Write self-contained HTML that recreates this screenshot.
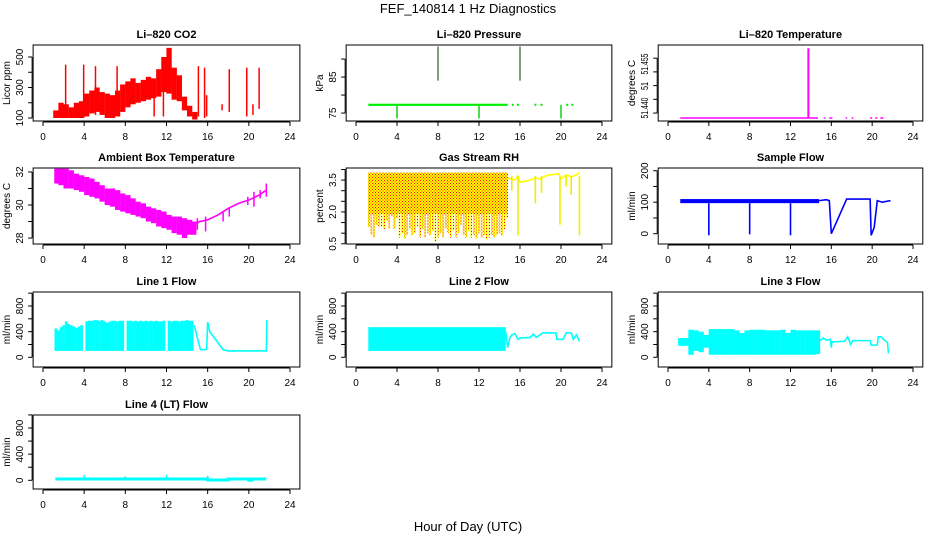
<!DOCTYPE html>
<html><head><meta charset="utf-8"><title>FEF_140814 1 Hz Diagnostics</title>
<style>
html,body{margin:0;padding:0;background:#fff;}
svg{display:block;font-family:"Liberation Sans",Arial,sans-serif;}
.t{font-size:11px;font-weight:bold;text-anchor:middle;}
.tk{font-size:10px;text-anchor:middle;}
</style></head><body>
<svg id="chart" width="936" height="540" viewBox="0 0 936 540">
<defs>
<pattern id="rhpat" width="3" height="3" patternUnits="userSpaceOnUse">
<rect width="3" height="3" fill="#ffff00"/><rect x="0" y="0" width="1" height="1" fill="#ff0000"/><rect x="1.5" y="1.5" width="1" height="1" fill="#ff0000"/>
</pattern>
</defs>
<text x="468" y="13" font-size="13" text-anchor="middle">FEF_140814  1 Hz Diagnostics</text>
<text x="468" y="531" font-size="13" text-anchor="middle">Hour of Day (UTC)</text>
</svg>
<script>
// ---------- data ----------
const xTicks = [0,4,8,12,16,20,24];
// CO2 envelope
const co2Hours = [1.25,1.75,2.25,2.75,3.25,3.75,4.25,4.75,5.25,5.75,6.25,6.75,7.25,7.75,8.25,8.75,9.25,9.75,10.25,10.75,11.25,11.75,12.25,12.75,13.25,13.75,14.25,14.75];
const co2Lo = [100,100,100,100,100,100,110,130,140,120,100,100,110,140,170,190,200,210,220,230,240,270,260,220,210,150,110,90];
const co2Hi = [150,200,190,170,200,210,260,280,300,270,260,250,280,320,340,360,330,350,370,360,420,500,560,430,380,240,180,140];
const co2SpikeH = [2.2,3.95,5.1,7.2,10.8,11.7,15.1,15.7,15.9,17.4,18.1,19.8,20.4,21.0];
const co2SpikeLo = [100,100,120,110,110,110,110,100,110,150,140,110,120,160];
const co2SpikeHi = [450,450,440,440,320,400,440,430,250,190,420,430,190,430];
// Pressure
const presBandStart = 1.2, presBandEnd = 14.8, presBase = 77.3;
const presDotH = [15.3,15.8,17.5,18.1,20.6,21.1];
const presUpH = [8,16], presUpLo = [84,84], presUpHi = [93.5,93.5];
const presDnH = [4,12,20], presDnLo = [73.5,73.5,73.5];
// Li-820 temperature
const tempLineStart = 1.2, tempLineEnd = 14.7, tempBase = 51.4382;
const tempSpikeH = 13.75, tempSpikeTop = 51.4636;
const tempDashStart = [15.3,15.8,17.4,18.0,19.8,20.3,20.8];
const tempDashEnd = [15.45,16.1,17.55,18.15,20.0,20.5,21.1];
// Ambient box temperature
const ambHours = [1.35,1.75,2.25,2.75,3.25,3.75,4.25,4.75,5.25,5.75,6.25,6.75,7.25,7.75,8.25,8.75,9.25,9.75,10.25,10.75,11.25,11.75,12.25,12.75,13.25,13.75,14.25,14.65];
const ambLo = [31.3,31.2,31.0,31.0,30.9,30.8,30.6,30.5,30.4,30.2,30.0,29.9,29.7,29.6,29.5,29.4,29.3,29.2,29.0,28.9,28.7,28.6,28.5,28.3,28.2,28.0,28.2,28.2];
const ambHi = [32.2,32.2,32.2,32.1,31.9,31.8,31.7,31.6,31.4,31.2,31.0,31.0,30.9,30.7,30.6,30.4,30.2,30.1,29.9,29.8,29.7,29.6,29.4,29.3,29.3,29.2,29.1,29.0];
const ambTailH = [14.8,15.0,15.2,16,17,18,19,20,21,21.7];
const ambTailV = [28.9,28.9,29.0,29.1,29.4,29.8,30.1,30.3,30.6,30.9];
const ambSpikeH = [15.0,15.8,17.5,18.1,19.9,20.5,21.1,21.7];
const ambSpikeLo = [28.5,28.4,29.0,29.3,30.0,29.9,30.4,30.5];
const ambSpikeHi = [29.2,29.3,29.6,29.8,30.5,30.8,30.9,31.3];
// Gas stream RH
const rhHours = [1.25,1.5,1.75,2.0,2.25,2.5,2.75,3.0,3.25,3.5,3.75,4.0,4.25,4.5,4.75,5.0,5.25,5.5,5.75,6.0,6.25,6.5,6.75,7.0,7.25,7.5,7.75,8.0,8.25,8.5,8.75,9.0,9.25,9.5,9.75,10.0,10.25,10.5,10.75,11.0,11.25,11.5,11.75,12.0,12.25,12.5,12.75,13.0,13.25,13.5,13.75,14.0,14.25,14.5,14.75];
const rhLo = [1.3,0.9,0.8,1.4,1.3,1.3,1.2,1.6,1.2,1.8,1.2,1.7,0.8,1.0,0.75,0.9,1.2,0.9,1.0,1.3,0.8,1.2,0.8,1.0,0.9,1.1,0.6,0.8,1.0,0.8,1.2,1.0,0.8,1.1,0.8,1.0,1.4,0.9,0.8,1.1,0.8,0.9,0.75,1.0,0.8,0.9,0.7,0.8,0.9,0.8,0.9,1.0,0.9,1.2,1.7];
const rhHi = 3.85;
const rhTailH = [14.8,15.2,15.5,15.8,16.0,17.0,17.5,18.0,18.5,19.0,19.8,20.0,20.5,21.0,21.5,21.8];
const rhTailV = [3.6,3.55,3.5,3.7,3.4,3.5,3.6,3.55,3.7,3.75,3.8,3.55,3.75,3.65,3.75,3.85];
const rhSpikeH = [15.2,15.8,17.5,18.1,19.9,20.5,21.0,21.8];
const rhSpikeLo = [3.0,0.9,2.4,2.9,1.4,3.2,2.8,0.9];
// Sample flow
const sfBandStart = 1.2, sfBandEnd = 14.8, sfBandLo = 97, sfBandHi = 110;
const sfDropH = [4,8,12];
const sfDropV = [-5,-2,-5];
const sfTailH = [14.8,15.5,15.8,16.0,17.5,19.8,19.9,20.2,20.5,21.0,21.8];
const sfTailV = [105,108,105,0,110,110,-5,20,105,100,105];
// Line 1 flow
const l1Hours = [1.25,1.5,1.75,2.0,2.25,2.5,2.75,3.0,3.25,3.5,3.75,4.25,4.5,4.75,5.0,5.25,5.5,5.75,6.0,6.25,6.5,6.75,7.0,7.25,7.5,7.75,8.25,8.5,8.75,9.0,9.25,9.5,9.75,10.0,10.25,10.5,10.75,11.0,11.25,11.5,11.75,12.25,12.5,12.75,13.0,13.25,13.5,13.75,14.0,14.25,14.5];
const l1Hi = [450,420,470,500,560,520,500,480,460,480,500,560,570,570,580,580,570,580,560,540,560,570,570,560,570,570,570,570,560,570,560,570,560,570,560,570,560,570,560,560,570,570,560,570,570,560,570,570,580,570,570];
const l1Lo = 100;
const l1TailH = [14.7,15.0,15.3,15.9,16.0,16.2,17.5,18.0,21.7,21.75];
const l1TailV = [500,300,120,120,550,400,120,100,100,580];
// Line 2 flow
const l2BandStart = 1.2, l2BandEnd = 14.6, l2BandLo = 100, l2BandHi = 470;
const l2TailH = [14.6,14.8,15.0,15.2,15.5,15.8,16.0,17.0,17.3,17.6,18.2,19.5,19.6,20.2,20.5,21.0,21.2,21.5,21.8];
const l2TailV = [400,150,300,350,370,280,300,310,360,310,380,380,280,280,380,380,280,350,250];
// Line 3 flow
const l3Hours = [1.25,1.5,1.75,2.25,2.75,3.25,3.75,4.25,4.75,5.25,5.75,6.25,6.75,7.25,7.75,8.25,8.75,9.25,9.75,10.25,10.75,11.25,11.75,12.25,12.75,13.25,13.75,14.25,14.65];
const l3Lo = [180,180,180,40,100,80,150,40,40,40,40,40,40,40,40,40,40,40,40,40,40,40,40,40,40,40,40,40,50];
const l3Hi = [300,300,300,430,420,400,350,440,440,440,440,440,420,380,420,430,430,430,420,420,420,430,380,430,420,420,420,420,420];
const l3TailH = [14.8,15.2,15.5,15.9,16.0,16.05,17.3,17.6,17.9,18.1,19.8,19.9,20.5,20.6,20.9,21.1,21.5,21.6];
const l3TailV = [250,300,270,280,150,240,250,320,200,260,260,190,190,320,320,280,230,60];
// Line 4 flow
const l4LineH = [1.2,16.0,16.0,18.0,18.0,20.0,20.0,20.3,20.3,21.7];
const l4LineV = [20,20,5,5,20,20,0,0,20,20];
const l4SpikeH = [4,8,12,16];
const l4SpikeV = [80,60,80,70];

// ---------- layout ----------
const svg = document.getElementById('chart');
const NS = 'http://www.w3.org/2000/svg';
const colX0 = [43,356,668], colX24 = [290,602,913];
const rowTop = [45,168,292,415], rowBot = [121,244,367,489];
function mk(tag, attrs, parent){const e=document.createElementNS(NS,tag);for(const k in attrs)e.setAttribute(k,attrs[k]);(parent||svg).appendChild(e);return e;}
function makePanel(cfg){
  const p = Object.assign({}, cfg);
  p.top=rowTop[cfg.row]; p.bot=rowBot[cfg.row];
  p.x=h=>colX0[cfg.col]+h*(colX24[cfg.col]-colX0[cfg.col])/24;
  p.y=v=>p.bot-(v-cfg.lo)/(cfg.hi-cfg.lo)*(p.bot-p.top);
  p.left=p.x(-0.96); p.right=p.x(24.96);
  const g=mk('g',{});
  
  
  p.g=g;
  p.data=mk('g',{},g);
  
  
  return p;
}
function finishPanel(p){
  const g=p.g;
  const box=mk('rect',{x:p.left,y:p.top,width:p.right-p.left,height:p.bot-p.top,fill:'none',stroke:'#000','stroke-width':1},g);
  
  
  const t=mk('text',{x:(p.left+p.right)/2,y:p.top-7,class:'t'},g); t.textContent=p.title;
  
  
  const xa=mk('g',{},g);
  
  
  mk('line',{x1:p.x(0),x2:p.x(24),y1:p.bot+1,y2:p.bot+1,stroke:'#000'},xa);
  xTicks.forEach(v=>{
    mk('line',{x1:p.x(v),x2:p.x(v),y1:p.bot+1,y2:p.bot+5,stroke:'#000'},xa);
    const l=mk('text',{x:p.x(v),y:p.bot+19,class:'tk'},xa); l.textContent=v;
    
    
  });
  const ya=mk('g',{},g);
  
  
  mk('line',{x1:p.left-1,x2:p.left-1,y1:p.y(p.ticks[0]),y2:p.y(p.ticks[p.ticks.length-1]),stroke:'#000'},ya);
  p.ticks.forEach(v=>mk('line',{x1:p.left-5,x2:p.left-1,y1:p.y(v),y2:p.y(v),stroke:'#000'},ya));
  p.labels.forEach((lab,i)=>{
    const yy=p.labelY?p.labelY[i]:p.y(p.labelV[i]);
    const lx=p.left-10;
    const attrs={x:lx,y:yy,class:'tk',transform:`rotate(-90 ${lx} ${yy})`};
    if(p.labelLen){attrs.textLength=p.labelLen[i];attrs.lengthAdjust='spacingAndGlyphs';}
    const l=mk('text',attrs,ya); l.textContent=lab;
    
    
  });
  const yl=p.left-23, ym=(p.top+p.bot)/2;
  const yt=mk('text',{x:yl,y:ym,class:'tk',transform:`rotate(-90 ${yl} ${ym})`},g); yt.textContent=p.ylab;
  
  
}
function vseg(p,h,a,b,color,w){return mk('line',{x1:p.x(h),x2:p.x(h),y1:p.y(a),y2:p.y(b),stroke:color,'stroke-width':w},p.data);}
function band(p,hs,los,his,color,w){hs.forEach((h,i)=>{
  const lo=Array.isArray(los)?los[i]:los, hi=Array.isArray(his)?his[i]:his;
  const e=vseg(p,h,lo,hi,color,w);
  
  
});}
function rectBand(p,h0,h1,lo,hi,color){const e=mk('rect',{x:p.x(h0),y:p.y(hi),width:p.x(h1)-p.x(h0),height:Math.max(1,p.y(lo)-p.y(hi)),fill:color},p.data);
  
  }
function poly(p,hs,vs,color,w){const pts=hs.map((h,i)=>p.x(h)+','+p.y(vs[i])).join(' ');
  const e=mk('polyline',{points:pts,fill:'none',stroke:color,'stroke-width':w},p.data);
  
  }

// ---- CO2 ----
let p=makePanel({name:'co2',col:0,row:0,lo:80.3,hi:578.7,title:'Li\u2013820 CO2',ylab:'Licor ppm',ticks:[100,200,300,400,500],labels:['100','300','500'],labelV:[100,300,500]});
band(p,co2Hours,co2Lo,co2Hi,'#ff0000',5.3);
co2SpikeH.forEach((h,i)=>{const e=vseg(p,h,co2SpikeLo[i],co2SpikeHi[i],'#ff0000',1.5);
  
  });
finishPanel(p);

// ---- Pressure ----
p=makePanel({name:'pressure',col:1,row:0,lo:72.8,hi:93.9,title:'Li\u2013820 Pressure',ylab:'kPa',ticks:[75,80,85,90],labels:['75','85'],labelV:[75,85]});
rectBand(p,presBandStart,presBandEnd,presBase-0.3,presBase+0.3,'#00ee00');
presDotH.forEach(h=>{const e=mk('rect',{x:p.x(h)-1,y:p.y(presBase)-1,width:2,height:2,fill:'#00ee00'},p.data);
  
  });
presUpH.forEach((h,i)=>{const e=vseg(p,h,presUpLo[i],presUpHi[i],'#226622',1.2);
  
  });
presDnH.forEach((h,i)=>{const e=vseg(p,h,presDnLo[i],presBase,'#00cc00',1.4);
  
  });
finishPanel(p);

// ---- Temperature ----
p=makePanel({name:'li820-temperature',col:2,row:0,lo:51.4371,hi:51.4648,title:'Li\u2013820 Temperature',ylab:'degrees C',ticks:[51.44,51.445,51.45,51.455,51.46],labels:['51.440','51','51.455'],labelY:[108,86,64],labelLen:[21,8,21]});
poly(p,[tempLineStart,tempLineEnd],[tempBase,tempBase],'#ff00ff',1.5);
{const e=vseg(p,tempSpikeH,tempBase,tempSpikeTop,'#ff00ff',2);
  
  }
tempDashStart.forEach((h,i)=>poly(p,[h,tempDashEnd[i]],[tempBase,tempBase],'#ff00ff',1.5));
finishPanel(p);

// ---- Ambient ----
p=makePanel({name:'ambient-temperature',col:0,row:1,lo:27.64,hi:32.24,title:'Ambient Box Temperature',ylab:'degrees C',ticks:[28,29,30,31,32],labels:['28','30','32'],labelV:[28,30,32]});
band(p,ambHours,ambLo,ambHi,'#ff00ff',5.3);
poly(p,ambTailH,ambTailV,'#ff00ff',1.6);
ambSpikeH.forEach((h,i)=>{const e=vseg(p,h,ambSpikeLo[i],ambSpikeHi[i],'#ff00ff',1.5);
  
  });
finishPanel(p);

// ---- RH ----
p=makePanel({name:'gas-stream-rh',col:1,row:1,lo:0.49,hi:4.07,title:'Gas Stream RH',ylab:'percent',ticks:[0.5,1,1.5,2,2.5,3,3.5,4],labels:['0.5','2.0','3.5'],labelV:[0.5,2,3.5]});
rectBand(p,1.2,14.8,1.9,rhHi,'url(#rhpat)');
band(p,rhHours,rhLo,rhHi,'url(#rhpat)',1.6);
poly(p,rhTailH,rhTailV,'#ffff00',1.6);
rhSpikeH.forEach((h,i)=>{const e=vseg(p,h,rhSpikeLo[i],3.7,'#eeee00',1.6);
  
  });
finishPanel(p);

// ---- Sample flow ----
p=makePanel({name:'sample-flow',col:2,row:1,lo:-32.7,hi:208.6,title:'Sample Flow',ylab:'ml/min',ticks:[0,50,100,150,200],labels:['0','100','200'],labelV:[0,100,200]});
rectBand(p,sfBandStart,sfBandEnd,sfBandLo,sfBandHi,'#0000ff');
sfDropH.forEach((h,i)=>{const e=vseg(p,h,sfDropV[i],sfBandLo,'#0000ff',1.6);
  
  });
poly(p,sfTailH,sfTailV,'#0000ff',1.6);
finishPanel(p);

// ---- Line 1 ----
const flowTicks=[0,200,400,600,800,1000];
p=makePanel({name:'line1-flow',col:0,row:2,lo:-151,hi:1018,title:'Line 1 Flow',ylab:'ml/min',ticks:flowTicks,labels:['0','400','800'],labelV:[0,400,800]});
band(p,l1Hours,l1Lo,l1Hi,'#00ffff',2.7);
poly(p,l1TailH,l1TailV,'#00ffff',1.6);
finishPanel(p);

// ---- Line 2 ----
p=makePanel({name:'line2-flow',col:1,row:2,lo:-151,hi:1018,title:'Line 2 Flow',ylab:'ml/min',ticks:flowTicks,labels:['0','400','800'],labelV:[0,400,800]});
rectBand(p,l2BandStart,l2BandEnd,l2BandLo,l2BandHi,'#00ffff');
poly(p,l2TailH,l2TailV,'#00ffff',1.6);
finishPanel(p);

// ---- Line 3 ----
p=makePanel({name:'line3-flow',col:2,row:2,lo:-151,hi:1018,title:'Line 3 Flow',ylab:'ml/min',ticks:flowTicks,labels:['0','400','800'],labelV:[0,400,800]});
band(p,l3Hours,l3Lo,l3Hi,'#00ffff',5.3);
poly(p,l3TailH,l3TailV,'#00ffff',1.6);
finishPanel(p);

// ---- Line 4 ----
p=makePanel({name:'line4-flow',col:0,row:3,lo:-133,hi:999,title:'Line 4 (LT) Flow',ylab:'ml/min',ticks:flowTicks,labels:['0','400','800'],labelV:[0,400,800]});
poly(p,l4LineH,l4LineV,'#00ffff',3);
l4SpikeH.forEach((h,i)=>{const e=vseg(p,h,0,l4SpikeV[i],'#00ffff',1.5);
  
  });
finishPanel(p);
</script>
</body></html>
